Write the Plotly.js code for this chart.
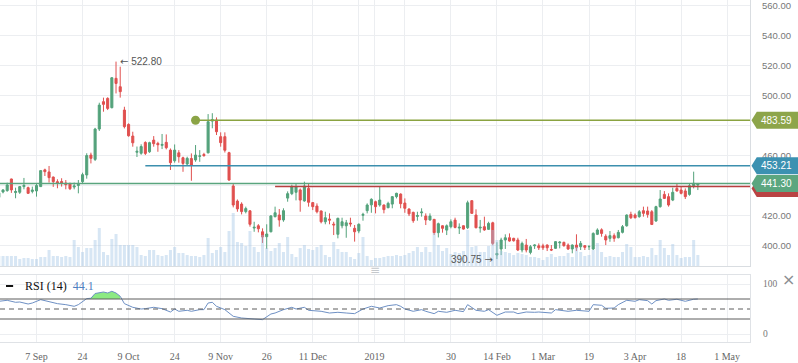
<!DOCTYPE html>
<html><head><meta charset="utf-8">
<script src="https://cdn.plot.ly/plotly-3.0.1.min.js"></script>
<style>html,body{margin:0;padding:0;background:#fff}#chart{width:798px;height:363px}</style>
</head><body><div id="chart"></div>
<script>
// trading days (categories)
const dates = [
'2018-08-27','2018-08-28','2018-08-29','2018-08-30','2018-08-31',
'2018-09-03','2018-09-04','2018-09-05','2018-09-06','2018-09-07',
'2018-09-10','2018-09-11','2018-09-12','2018-09-13','2018-09-14',
'2018-09-17','2018-09-18','2018-09-19','2018-09-20','2018-09-21',
'2018-09-24','2018-09-25','2018-09-26','2018-09-27','2018-09-28',
'2018-10-01','2018-10-02','2018-10-03','2018-10-04','2018-10-05',
'2018-10-08','2018-10-09','2018-10-10','2018-10-11','2018-10-12',
'2018-10-15','2018-10-16','2018-10-17','2018-10-18','2018-10-19',
'2018-10-22','2018-10-23','2018-10-24','2018-10-25','2018-10-26',
'2018-10-29','2018-10-30','2018-10-31','2018-11-01','2018-11-02',
'2018-11-05','2018-11-06','2018-11-07','2018-11-09',
'2018-11-12','2018-11-13','2018-11-14','2018-11-15','2018-11-16',
'2018-11-19','2018-11-20','2018-11-21','2018-11-22','2018-11-23',
'2018-11-26','2018-11-27','2018-11-28','2018-11-29','2018-11-30',
'2018-12-03','2018-12-04','2018-12-05','2018-12-06','2018-12-07',
'2018-12-10','2018-12-11','2018-12-12','2018-12-13','2018-12-14',
'2018-12-17','2018-12-18','2018-12-19','2018-12-20','2018-12-21',
'2018-12-24','2018-12-26','2018-12-27','2018-12-28','2018-12-31',
'2019-01-02','2019-01-03','2019-01-04',
'2019-01-07','2019-01-08','2019-01-09','2019-01-10','2019-01-11',
'2019-01-14','2019-01-15','2019-01-16','2019-01-17','2019-01-18',
'2019-01-22','2019-01-23','2019-01-24','2019-01-25',
'2019-01-28','2019-01-29','2019-01-30','2019-01-31','2019-02-01',
'2019-02-04','2019-02-05','2019-02-06','2019-02-07','2019-02-08',
'2019-02-11','2019-02-12','2019-02-13','2019-02-14','2019-02-15',
'2019-02-18','2019-02-19','2019-02-20','2019-02-21','2019-02-22',
'2019-02-25','2019-02-26','2019-02-27','2019-02-28','2019-03-01',
'2019-03-05','2019-03-06','2019-03-07','2019-03-08',
'2019-03-11','2019-03-12','2019-03-13','2019-03-14','2019-03-15',
'2019-03-18','2019-03-19','2019-03-20','2019-03-21','2019-03-22',
'2019-03-25','2019-03-26','2019-03-27','2019-03-28','2019-03-29',
'2019-04-01','2019-04-02','2019-04-03','2019-04-04','2019-04-05',
'2019-04-08','2019-04-09','2019-04-10','2019-04-11','2019-04-12',
'2019-04-15','2019-04-16','2019-04-17','2019-04-18','2019-04-19',
'2019-04-22','2019-04-23','2019-04-24'
];
const holidays = ['2018-11-08','2018-12-25','2019-01-01','2019-01-21','2019-03-04'];

const open = [
432,435.6,436.5,444.3,435.2,435.4,439.2,438.5,436.0,
436.3,439.2,450.4,449.0,445.6,442.5,442.6,441.6,441.2,438.9,
440.0,442.5,447.0,460.3,457.4,477.7,496.0,498.2,492.0,511.6,
506.0,490.4,480.8,473.0,462.2,461.5,468.7,462.5,470.3,468.1,
466.8,468.8,463.6,456.5,461.8,458.5,454.3,458.0,457.0,459.5,
460.7,461.8,483.0,483.7,472.6,472.6,461.9,439.6,429.5,427.5,
422.5,423.0,411.5,413.0,409.0,405.7,409.0,419.1,420.2,416.9,
431.5,434.5,435.4,437.0,429.6,438.0,428.5,426.2,422.9,415.7,
417.5,414.1,407.3,413.0,413.0,414.8,411.3,409.5,420.0,423.1,
427.0,429.1,426.9,426.9,425.1,427.5,432.5,434.2,428.2,424.2,
422.0,419.3,421.7,419.5,416.9,417.3,408.4,413.0,410.1,412.4,
416.8,411.5,413.0,411.7,429.8,420.2,411.5,412.4,410.6,415.0,
393.5,397.5,403.5,405.0,404.6,403.5,396.8,400.1,395.2,399.6,
399.6,399.6,400.1,397.1,397.9,401.6,401.9,400.1,397.5,400.1,
399.0,399.7,399.0,397.5,407.3,410.3,406.0,404.6,406.4,405.0,
408.6,413.0,420.6,420.2,419.1,423.1,422.9,422.4,416.2,425.8,
434.0,432.5,430.2,438.0,436.9,436.3,434.0,439.8,440.3
];
const high = [
436,437.4,441.8,444.5,438.5,439.6,445.0,439.2,439.2,
441.0,450.0,451.2,453.0,445.9,444.1,444.8,443.6,441.9,441.9,
443.6,448.5,461.5,461.9,478.5,495.3,498.7,498.9,512.5,522.8,
519.4,492.6,481.5,475.9,466.0,467.5,469.5,469.2,473.0,469.2,
474.4,474.1,464.7,467.4,463.6,459.2,459.2,461.4,467.0,463.6,
461.8,487.7,488.3,485.5,475.5,475.5,462.5,440.9,430.6,428.7,
425.8,423.5,415.7,414.1,411.3,414.0,420.2,425.8,424.2,424.7,
436.0,440.5,441.4,438.0,442.5,441.0,428.9,428.0,423.2,422.4,
421.3,415.7,418.4,418.4,416.9,418.4,413.5,414.6,421.7,428.0,
431.4,429.8,439.6,427.2,429.1,432.9,435.1,434.7,431.3,424.7,
422.4,422.4,424.7,421.3,421.3,417.6,415.1,413.3,413.9,417.3,
418.4,414.6,413.2,429.8,430.0,424.0,416.9,419.1,415.7,415.7,
402.0,405.0,407.3,407.9,405.0,405.0,402.4,404.2,400.1,400.6,
401.2,401.0,400.6,400.1,402.8,402.8,402.4,401.2,400.6,407.3,
402.8,400.1,400.1,408.6,411.3,411.3,407.3,409.5,407.9,410.2,
413.5,420.6,422.4,421.3,423.5,425.8,425.8,423.5,426.4,436.9,
436.2,434.7,438.5,441.4,439.2,438.0,441.4,449.2,441.6
];
const low = [
429,434.7,435.8,435.0,431.4,434.3,437.4,434.3,434.7,
432.5,439.0,446.3,441.9,439.0,438.1,439.2,437.4,436.9,437.4,
434.7,441.4,444.5,454.7,456.3,476.4,489.3,490.4,491.5,501.5,
498.7,478.1,472.6,465.9,459.0,460.5,460.3,461.8,465.9,462.5,
464.3,464.1,450.3,455.2,455.2,449.1,453.6,443.1,455.8,455.8,
459.2,461.4,478.2,473.7,465.9,462.0,443.1,425.3,422.4,420.6,
421.3,412.4,409.0,408.6,401.5,397.5,408.6,418.6,412.4,415.7,
429.1,433.5,430.0,422.4,429.1,425.8,423.5,421.3,414.6,414.0,
414.0,406.8,404.6,411.3,405.0,412.4,402.4,408.0,416.4,421.3,
421.7,421.3,425.8,421.3,424.7,424.7,431.3,424.7,421.7,419.5,
415.0,416.4,419.1,413.5,416.4,406.8,405.2,408.4,406.8,411.3,
411.3,407.5,410.4,410.8,421.0,411.3,408.4,409.7,410.2,400.0,
390.75,393.4,397.5,402.4,402.4,396.1,395.2,395.2,393.9,397.5,
396.8,396.8,396.1,396.1,397.5,397.9,399.0,396.8,394.6,396.1,
396.8,396.8,396.8,396.8,406.8,405.7,400.1,402.3,402.3,404.6,
407.9,412.4,417.5,417.9,418.4,419.1,418.4,413.5,415.7,425.1,
430.9,425.8,429.5,435.8,434.0,430.9,433.1,438.0,436.9
];
const close = [
435,437.0,440.3,437.0,435.9,439.2,440.0,434.7,436.9,
439.9,449.9,449.2,445.2,442.5,441.4,441.4,440.5,437.8,439.6,
440.6,447.2,460.0,458.1,477.7,493.7,494.2,491.5,512.0,508.2,
502.7,479.3,473.2,468.5,462.8,466.0,461.4,468.6,467.9,467.2,
467.4,465.2,455.2,463.6,459.2,454.7,458.1,453.6,460.3,459.7,
459.9,482.6,484.0,475.9,468.6,463.5,443.6,426.9,424.3,422.5,
424.5,414.0,412.0,411.0,405.5,407.5,419.6,421.7,416.9,423.1,
434.5,439.2,439.2,430.2,439.6,428.7,425.8,422.4,415.7,418.4,
416.8,413.6,418.0,415.7,415.0,414.3,409.0,414.0,420.6,426.9,
430.7,425.8,430.2,423.8,428.0,432.5,434.7,427.8,424.7,421.0,
416.4,419.8,422.2,416.9,419.5,408.4,414.4,411.3,413.0,415.7,
411.9,412.0,410.8,428.4,421.3,411.7,412.0,410.2,414.6,401.2,
394.5,403.5,405.0,402.8,403.0,396.8,401.2,396.8,399.0,400.1,
398.3,398.3,398.3,396.8,402.4,402.0,399.7,397.5,400.1,398.3,
401.2,398.6,399.1,407.9,410.2,407.9,403.5,406.4,404.6,408.6,
412.4,420.2,418.4,418.4,422.4,421.3,420.6,413.9,425.8,430.9,
431.3,426.9,435.4,436.3,434.7,432.5,439.8,441.4,441.3
];
const volume = [
10,10,10,10,10,7,8,8,7,
7,9,9,16,10,10,9,10,9,26,
19,14,18,18,26,38,14,11,27,32,
21,21,21,21,19,11,10,16,16,11,
10,11,16,19,13,13,11,10,10,9,
11,28,13,16,19,14,35,53,24,23,
20,35,19,14,31,18,15,18,23,14,
29,12,9,18,21,17,16,19,21,11,
9,24,17,14,14,9,7,13,29,10,
6,8,8,9,10,10,11,10,11,13,
15,19,14,19,14,33,21,15,18,12,
14,13,15,36,19,20,14,14,20,36,
26,15,14,13,11,13,12,11,9,9,
8,6,9,12,9,10,10,13,9,19,
14,10,11,16,23,14,9,10,9,9,
14,22,19,9,9,10,9,18,11,26,
18,11,22,11,8,9,9,26,11
];
// RSI(14) read at sample bars (bar index relative to 7 Sep)
const rsiIdx = [-9,-7,-5,-4,-2,-1,1,3,5,7,9,10,11,12,13,14,16,17,18,19,20,21,23,25,26,28,30,32,33,34,36,37,39,40,41,42,43,45,47,49,52,54,56,57,59,61,62,64,65,68,70,72,74,76,78,80,82,84,86,87,88,90,92,93,95,96,98,100,102,103,105,107,108,110,112,114,115,117,119,120,123,124,127,129,132,133,135,136,138,139,141,143,144,146,147,148,150,151,153,155,157,158];
const rsiVal = [65.4,67.4,63.4,64,60,62,68.7,64,60.7,58.7,55.4,58.7,65,70.8,71.5,81,84,82,85.4,82,75.4,60.7,53.4,50,50.7,53.4,50.7,44,50,45.4,47.4,45.4,48.7,48.7,62,63.4,55.4,48.7,35.4,32,30,28.7,40,42,48.7,53.4,50,53.4,47.4,45.4,42,43.4,42,40.7,50,55.4,52,56.7,58.7,55.4,50,45.4,48.7,45.4,40.7,45.4,43.4,47.4,44.7,58.7,47.4,45.4,48.7,37.4,44,44,40.7,44,43.4,44,42,48.7,45.4,47.4,45.4,58.7,57.4,51.4,52,58.7,67.4,65.4,68.7,66.7,60,66.7,70,67.4,69.5,65.4,69.5,70];
const rsiLevels = [30, 50, 70];

// horizontal level lines (value, first bar index)
const lvlOlive = 483.59, lvlOliveStart = 38;
const lvlTeal = 453.21, lvlTealStart = 26;
const lvlLast = 441.30;
const lvlRed = 439.35, lvlRedStart = 57;
const peakValue = 522.80, peakIdx = 19;
const troughValue = 390.75, troughIdx = 110;

const tickDates = ['2018-09-07 12:00','2018-09-24 12:00','2018-10-09 12:00','2018-10-24 12:00','2018-11-09 12:00','2018-11-26 12:00','2018-12-11 12:00','2018-12-27 12:00','2019-01-03 06:00','2019-01-14 12:00','2019-01-30 12:00','2019-02-14 12:00','2019-03-01 12:00','2019-03-19 12:00','2019-04-03 12:00','2019-04-18 12:00','2019-05-03 12:00'];
const tickLabels = ['7 Sep','24','9 Oct','24','9 Nov','26','11 Dec','','2019','','30','14 Feb','1 Mar','19','3 Apr','18','1 May'];
const priceTicks = [400,420,440,460,480,500,520,540,560];
// 440 and 480 labels sit under the price tags
const priceLabels = ['400.00','420.00','','460.00','','500.00','520.00','540.00','560.00'];

const X = dates.map(d => d + ' 12:00');
const bar = k => X[k + 9];
const xRange = ['2018-08-27 18:43', '2019-05-10 23:00'];
const rb = [{bounds:['sat','mon']}, {values: holidays}];

const GREEN = '#53a27b', RED = '#e0504f';
const traces = [
  {type:'candlestick', x:X, open:open, high:high, low:low, close:close, xaxis:'x', yaxis:'y',
   increasing:{line:{color:GREEN,width:1}, fillcolor:GREEN},
   decreasing:{line:{color:RED,width:1}, fillcolor:RED},
   whiskerwidth:0, hoverinfo:'skip', showlegend:false},
  {type:'scatter', mode:'markers', x:[bar(lvlOliveStart)], y:[lvlOlive], xaxis:'x', yaxis:'y',
   marker:{size:9, color:'#8ba446'}, hoverinfo:'skip', showlegend:false},
  {type:'bar', x:X, y:volume, xaxis:'x', yaxis:'y3',
   marker:{color:'rgba(160,195,228,0.42)', line:{width:0}}, hoverinfo:'skip', showlegend:false}
];
// RSI overbought fill
const fp = rsiIdx.map((k,j)=>[k,rsiVal[j]]).filter(p => p[0]>=12 && p[0]<=20);
const fx = fp.map(p=>bar(p[0])), fy = fp.map(p=>p[1]);
fx.push(fx[fx.length-1], fx[0]); fy.push(70,70);
traces.push({type:'scatter', mode:'none', x:fx, y:fy, fill:'toself', fillcolor:'rgba(128,232,118,0.9)',
  xaxis:'x2', yaxis:'y2', hoverinfo:'skip', showlegend:false});
traces.push({type:'scatter', mode:'lines', x:rsiIdx.map(bar), y:rsiVal, xaxis:'x2', yaxis:'y2',
  line:{color:'#6e90c4', width:1}, hoverinfo:'skip', showlegend:false});

const shapes = [];
// darker year separator
shapes.push({type:'line', xref:'x', yref:'y domain', x0:'2019-01-03 06:00', x1:'2019-01-03 06:00', y0:0, y1:1, line:{color:'#d6d9dd', width:1}, layer:'below'});
shapes.push({type:'line', xref:'x', yref:'y2 domain', x0:'2019-01-03 06:00', x1:'2019-01-03 06:00', y0:0, y1:1, line:{color:'#d6d9dd', width:1}, layer:'below'});
// RSI levels
rsiLevels.forEach(v => shapes.push({type:'line', xref:'x2 domain', yref:'y2', x0:0, x1:1, y0:v, y1:v,
  line:{color:'#5d5d5d', width:1, dash: v===50 ? '5px,4px' : 'solid'}}));
// price level lines
shapes.push({type:'line', xref:'x', yref:'y', x0:bar(lvlTealStart), x1:xRange[1], y0:lvlTeal, y1:lvlTeal, line:{color:'#3c8fae', width:1.5}});
shapes.push({type:'line', xref:'x', yref:'y', x0:bar(lvlRedStart), x1:xRange[1], y0:lvlRed, y1:lvlRed, line:{color:'#b83f3f', width:1.5}});
shapes.push({type:'line', xref:'x domain', yref:'y', x0:0, x1:1, y0:lvlLast, y1:lvlLast, line:{color:'#5aa57e', width:1.5}});
shapes.push({type:'line', xref:'x', yref:'y', x0:bar(lvlOliveStart), x1:xRange[1], y0:lvlOlive, y1:lvlOlive, line:{color:'#8aa341', width:1.5}});
// right-side price tags
function tag(v, color){
  const h = 5.7;
  return {type:'path', xref:'paper', yref:'y', layer:'above', fillcolor:color, line:{width:0},
    path:`M 1.002 ${v} L 1.009 ${v+h} L 1.07 ${v+h} L 1.07 ${v-h} L 1.009 ${v-h} Z`};
}
shapes.push(tag(lvlRed - 1.4, '#b94343'));
shapes.push(tag(lvlLast, '#5ba67f'));
shapes.push(tag(lvlTeal, '#3b91b1'));
shapes.push(tag(lvlOlive, '#8da54a'));
// RSI legend dash
shapes.push({type:'line', xref:'paper', yref:'paper', x0:0.008, x1:0.0175, y0:0.1637, y1:0.1637, line:{color:'#111', width:2}});

const ARW = s => '<span style="font-family:DejaVu Sans">' + s + '</span>';
const tagFont = {family:'Liberation Sans, Arial, sans-serif', size:10, color:'#ffffff'};
const annotations = [
  {xref:'x', yref:'y', x:bar(peakIdx), y:peakValue, text:ARW('\u2190') + ' ' + peakValue.toFixed(2), showarrow:false,
   xanchor:'left', yanchor:'middle', xshift:2, font:{family:'Liberation Sans, Arial, sans-serif', size:10, color:'#555'}},
  {xref:'x', yref:'y', x:bar(troughIdx), y:troughValue, text:troughValue.toFixed(2) + ' ' + ARW('\u2192'), showarrow:false,
   xanchor:'right', yanchor:'middle', xshift:-2, font:{family:'Liberation Sans, Arial, sans-serif', size:10, color:'#555'}},
  {xref:'paper', yref:'y', x:1.035, y:lvlOlive, text:lvlOlive.toFixed(2), showarrow:false, xanchor:'center', yanchor:'middle', font:tagFont},
  {xref:'paper', yref:'y', x:1.035, y:lvlTeal, text:lvlTeal.toFixed(2), showarrow:false, xanchor:'center', yanchor:'middle', font:tagFont},
  {xref:'paper', yref:'y', x:1.035, y:lvlLast, text:lvlLast.toFixed(2), showarrow:false, xanchor:'center', yanchor:'middle', font:tagFont},
  {xref:'paper', yref:'paper', x:0.0307, y:0.1637, text:'RSI (14)\u00a0\u00a0<span style="color:#4f7fc0">44.1</span>', showarrow:false,
   xanchor:'left', yanchor:'middle', font:{family:'Liberation Serif, serif', size:12, color:'#111'}},
  {xref:'paper', yref:'paper', x:0.5, y:0.2105, text:'\u2261', showarrow:false, xanchor:'center', yanchor:'middle',
   font:{family:'DejaVu Sans', size:12, color:'#c4c8cc'}},
  {xref:'paper', yref:'paper', x:1.0507, y:0.184, text:'\u00d7', showarrow:false, xanchor:'center', yanchor:'middle',
   font:{family:'DejaVu Sans', size:16, color:'#8a8e92'}}
];

const grid = '#eceef1';
const layout = {
  width:798, height:363, margin:{l:0, r:48, t:0, b:21},
  paper_bgcolor:'#ffffff', plot_bgcolor:'#ffffff', showlegend:false, dragmode:false,
  font:{family:'Liberation Sans, Arial, sans-serif'},
  bargap:0.28, boxgap:0.3,
  xaxis:{type:'date', domain:[0,1], anchor:'y', range:xRange, rangebreaks:rb, rangeslider:{visible:false},
    tickmode:'array', tickvals:tickDates, ticktext:tickLabels, showticklabels:false, ticks:'',
    showgrid:true, gridcolor:grid, zeroline:false, showline:true, linecolor:'#d9dde1', fixedrange:true},
  yaxis:{domain:[0.2222,1], anchor:'x', side:'right', range:[386.1,564.0], tickmode:'array',
    tickvals:priceTicks, ticktext:priceLabels,
    tickfont:{family:'Liberation Sans, Arial, sans-serif', size:9.5, color:'#777'},
    ticks:'outside', ticklen:9, tickcolor:'rgba(0,0,0,0)', showgrid:true, gridcolor:grid,
    zeroline:false, showline:true, linecolor:'#d9dde1', fixedrange:true},
  yaxis3:{overlaying:'y', anchor:'x', side:'right', range:[0,266], visible:false, fixedrange:true},
  xaxis2:{type:'date', matches:'x', anchor:'y2', range:xRange, rangebreaks:rb,
    tickmode:'array', tickvals:tickDates, ticktext:tickLabels, showticklabels:true,
    tickfont:{family:'Liberation Serif, serif', size:10, color:'#666'},
    ticks:'outside', ticklen:5, tickcolor:'rgba(0,0,0,0)',
    showgrid:true, gridcolor:grid, zeroline:false, showline:true, mirror:true, linecolor:'#dfe2e6', fixedrange:true},
  yaxis2:{domain:[0,0.1959], anchor:'x2', side:'right', range:[-16,118], tickmode:'array', tickvals:[0,100], ticktext:['0','100'],
    tickfont:{family:'Liberation Serif, serif', size:9.5, color:'#777'},
    ticks:'outside', ticklen:10, tickcolor:'rgba(0,0,0,0)', showgrid:true, gridcolor:grid,
    zeroline:false, showline:true, mirror:true, linecolor:'#dfe2e6', fixedrange:true},
  shapes:shapes, annotations:annotations
};
Plotly.newPlot('chart', traces, layout, {displayModeBar:false, staticPlot:true});
</script>
</body></html>
